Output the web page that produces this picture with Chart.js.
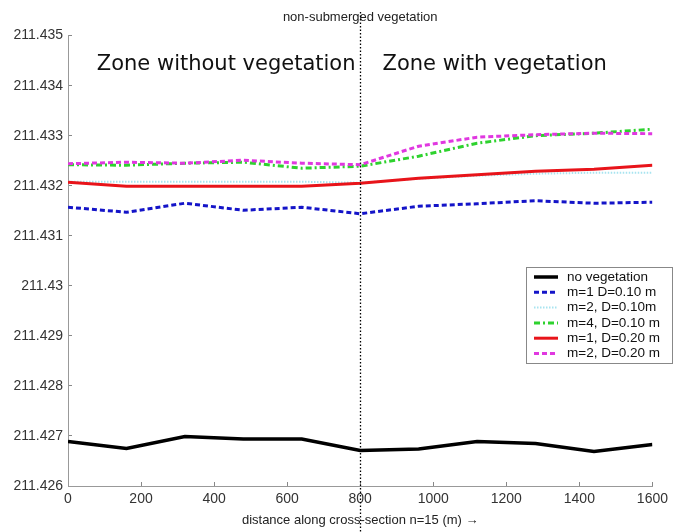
<!DOCTYPE html>
<html>
<head>
<meta charset="utf-8">
<script src="https://cdn.jsdelivr.net/npm/chart.js@4/dist/chart.umd.min.js"></script>
<style>
    html, body { margin: 0; padding: 0; background: #fff; }
    #wrap { position: relative; width: 677px; height: 532px; }
</style>
</head>
<body>
<div id="wrap"><canvas id="chart"></canvas></div>
<script>
/* ── Data ─────────────────────────────────────────────────────── */

const distances = [0, 160, 320, 480, 640, 800, 960, 1120, 1280, 1440, 1600];

const noVegetation = [211.42689, 211.42675, 211.42699, 211.42694, 211.42694, 211.42671,
                      211.42674, 211.42689, 211.42685, 211.42669, 211.42683];
const m1D010 = [211.43157, 211.43147, 211.43165, 211.43151, 211.43157, 211.43144,
                211.43159, 211.43164, 211.43170, 211.43165, 211.43167];
const m2D010 = [211.43208, 211.43208, 211.43208, 211.43208, 211.43208, 211.43206,
                211.43214, 211.43220, 211.43224, 211.43226, 211.43226];
const m4D010 = [211.43242, 211.43241, 211.43245, 211.43247, 211.43235, 211.43239,
                211.43259, 211.43285, 211.43300, 211.43305, 211.43313];
const m1D020 = [211.43207, 211.43199, 211.43199, 211.43199, 211.43199, 211.43205,
                211.43215, 211.43222, 211.43229, 211.43233, 211.43241];
const m2D020 = [211.43244, 211.43247, 211.43245, 211.43251, 211.43245, 211.43242,
                211.43279, 211.43297, 211.43302, 211.43305, 211.43304];

const seriesLabels = ['no vegetation', 'm=1 D=0.10 m', 'm=2, D=0.10m',
                      'm=4, D=0.10 m', 'm=1, D=0.20 m', 'm=2, D=0.20 m'];
const xTicks = [0, 200, 400, 600, 800, 1000, 1200, 1400, 1600];
const boundaryX = 800;

/* ── Styles ───────────────────────────────────────────────────── */

const STYLES = [
    { color: '#000000', width: 3.5, dash: [] },
    { color: '#1414c8', width: 3,   dash: [5, 3] },
    { color: '#a8e4f0', width: 2,   dash: [1.5, 1.5] },
    { color: '#2ed22e', width: 3,   dash: [6, 3, 2, 3] },
    { color: '#e8141a', width: 3,   dash: [] },
    { color: '#e038e0', width: 3,   dash: [5, 3] },
];
const allSeries = [noVegetation, m1D010, m2D010, m4D010, m1D020, m2D020];
// draw order: cyan under red, so reverse-ish order
const drawOrder = [0, 1, 2, 4, 3, 5];

const datasets = allSeries.map((vals, i) => ({
    label: seriesLabels[i],
    data: distances.map((d, k) => ({ x: d, y: vals[k] })),
    borderColor: STYLES[i].color,
    borderWidth: STYLES[i].width,
    borderDash: STYLES[i].dash,
    pointRadius: 0,
    tension: 0,
    fill: false,
    order: drawOrder.length - drawOrder.indexOf(i),
}));

const fmt = v => String(Number(v.toFixed(3)));

/* ── Overlay: boundary line, zone labels, legend ──────────────── */

const overlay = {
    id: 'overlay',
    afterDatasetsDraw(chart) {
        const { ctx, chartArea: a, scales: { x } } = chart;
        ctx.save();

        // dotted boundary
        const bx = Math.round(x.getPixelForValue(boundaryX)) + 0.5;
        ctx.strokeStyle = '#000';
        ctx.lineWidth = 1.3;
        ctx.setLineDash([1.5, 2]);
        ctx.beginPath(); ctx.moveTo(bx, 12); ctx.lineTo(bx, chart.height); ctx.stroke();
        ctx.setLineDash([]);

        // zone labels
        ctx.fillStyle = '#111';
        ctx.font = '21px "DejaVu Sans", Verdana, sans-serif';
        ctx.textBaseline = 'middle';
        ctx.textAlign = 'right';
        ctx.fillText('Zone without vegetation', bx - 5, a.top + 29);
        ctx.textAlign = 'left';
        ctx.fillText('Zone with vegetation', bx + 22, a.top + 29);

        // legend box
        const lx = 526, ly = 267, lw = 146, lh = 96, rowH = 15.3;
        ctx.fillStyle = '#fff';
        ctx.fillRect(lx, ly, lw, lh);
        ctx.strokeStyle = '#888';
        ctx.lineWidth = 1;
        ctx.strokeRect(lx + 0.5, ly + 0.5, lw, lh);
        ctx.font = '13.5px "Liberation Sans", Arial, sans-serif';
        ctx.textAlign = 'left';
        seriesLabels.forEach((lab, i) => {
            const y = ly + 10 + i * rowH;
            ctx.strokeStyle = STYLES[i].color;
            ctx.lineWidth = STYLES[i].width;
            ctx.setLineDash(STYLES[i].dash);
            ctx.beginPath(); ctx.moveTo(534, y); ctx.lineTo(558, y); ctx.stroke();
            ctx.setLineDash([]);
            ctx.fillStyle = '#111';
            ctx.fillText(lab, 567, y);
        });
        ctx.restore();
    }
};

/* ── Chart ────────────────────────────────────────────────────── */

const canvas = document.getElementById('chart');
canvas.width = 677; canvas.height = 532;

new Chart(canvas, {
    type: 'line',
    data: { datasets },
    options: {
        responsive: false,
        animation: false,
        layout: { padding: { left: 0, right: 21, top: 0, bottom: 0 } },
        scales: {
            x: {
                type: 'linear',
                min: 0, max: 1600,
                afterBuildTicks: s => { s.ticks = xTicks.map(v => ({ value: v })); },
                afterFit: s => { s.height = 46; },
                grid: { drawOnChartArea: false, drawTicks: true, tickLength: -4, color: '#888' },
                border: { color: '#999', width: 1 },
                ticks: { padding: 9, color: '#333', font: { family: '"Liberation Sans", Arial', size: 14 },
                         callback: v => String(v), maxRotation: 0 },
                title: { display: true, text: 'distance along cross-section n=15 (m) \u2192',
                         color: '#222', font: { family: '"Liberation Sans", Arial', size: 13 },
                         padding: { top: 0, bottom: 4 } },
            },
            y: {
                min: 211.426, max: 211.435,
                afterBuildTicks: s => {
                    const t = [];
                    for (let i = 0; i <= 9; i++) t.push({ value: Number((211.426 + i * 0.001).toFixed(3)) });
                    s.ticks = t;
                },
                afterFit: s => { s.width = 68; },
                grid: { drawOnChartArea: false, drawTicks: true, tickLength: -4, color: '#888' },
                border: { color: '#999', width: 1 },
                ticks: { padding: 9, color: '#333', font: { family: '"Liberation Sans", Arial', size: 14 },
                         callback: v => fmt(v) },
            },
        },
        plugins: {
            legend: { display: false },
            tooltip: { enabled: false },
            title: {
                display: true, fullSize: false,
                text: 'non-submerged vegetation',
                color: '#222',
                font: { family: '"Liberation Sans", Arial', size: 13, weight: 'normal' },
                padding: { top: 10, bottom: 10 },
            },
        },
    },
    plugins: [overlay],
});
</script>
</body>
</html>
